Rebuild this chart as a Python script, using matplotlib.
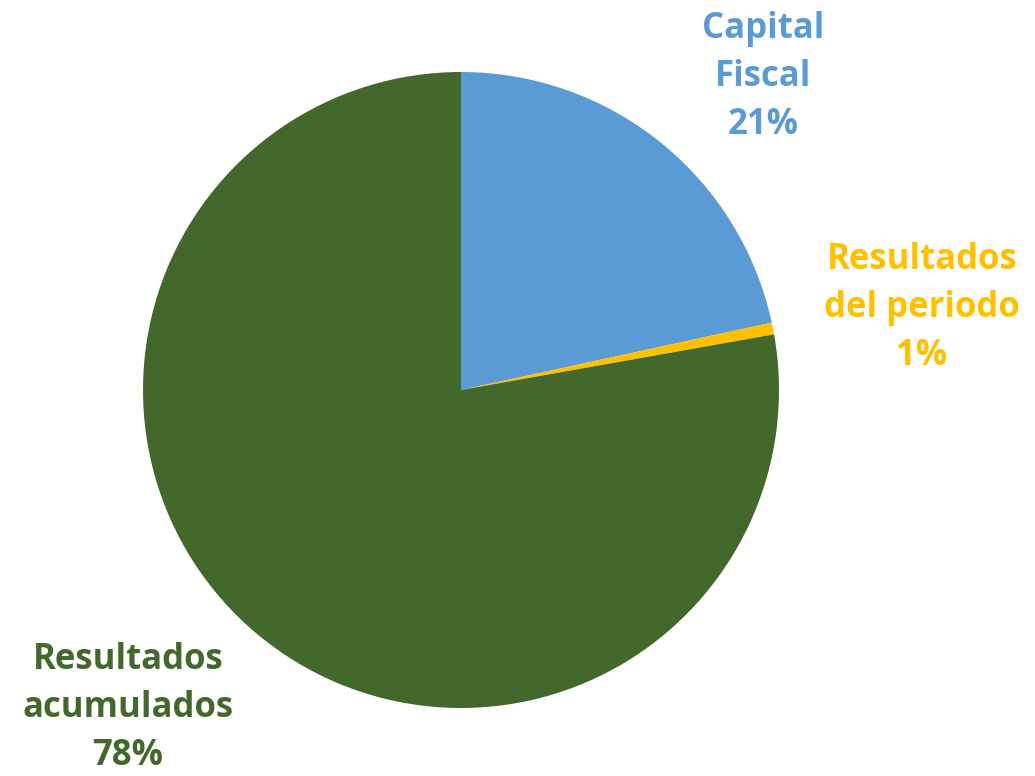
import matplotlib.pyplot as plt

# data
categorias = ["Capital\nFiscal", "Resultados\ndel periodo", "Resultados\nacumulados"]
valores = [21.6, 0.6, 77.8]
etiquetas_pct = ["21%", "1%", "78%"]
colores = ["#5B9BD5", "#FFC000", "#43682B"]

W, H = 1035, 776
fig = plt.figure(figsize=(W / 100, H / 100), dpi=100)

# pie centre (461, 390) px, radius 318 px
cx, cy, r = 461, 390, 318
ax = fig.add_axes([(cx - r) / W, (H - cy - r) / H, 2 * r / W, 2 * r / H])

ax.pie(valores, colors=colores, startangle=90, counterclock=False,
       wedgeprops=dict(linewidth=0))
ax.set_xlim(-1, 1)
ax.set_ylim(-1, 1)
ax.set_aspect("equal")
ax.axis("off")

# label positions in pixels (centre of text block)
pos_etiquetas = [(763, 77), (922, 308), (128, 708)]

for cat, pct, col, (px, py) in zip(categorias, etiquetas_pct, colores, pos_etiquetas):
    fig.text(px / W, 1 - py / H, cat + "\n" + pct, color=col,
             fontsize=25, fontweight="bold", family="Open Sans",
             ha="center", va="center", linespacing=1.45)

fig.savefig("out.png", dpi=100)
